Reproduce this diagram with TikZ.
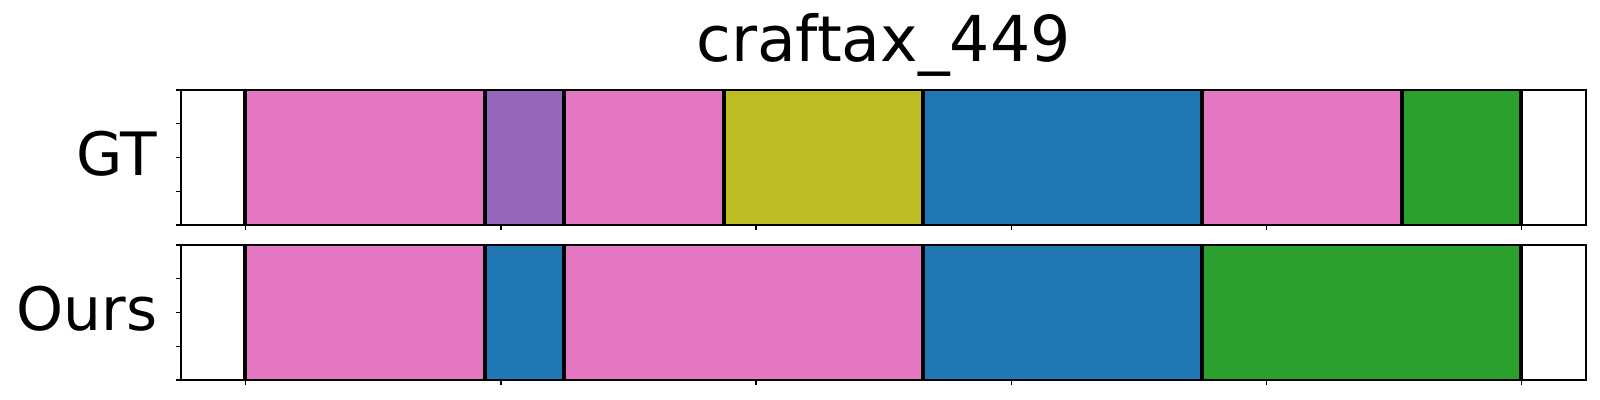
\documentclass[tikz,border=0pt]{standalone}
\usepackage{fontspec}
\setmainfont{DejaVu Sans}
\definecolor{tabpink}{HTML}{E377C2}
\definecolor{tabpurple}{HTML}{9467BD}
\definecolor{tabolive}{HTML}{BCBD22}
\definecolor{tabblue}{HTML}{1F77B4}
\definecolor{tabgreen}{HTML}{2CA02C}
\usepackage{tikz}

\begin{document}
\begin{tikzpicture}[x=0.01cm,y=-0.01cm,
    spine/.style={draw=black,line width=0.6pt},
    cutline/.style={draw=black,line width=1.4pt},
    axtick/.style={draw=black,line width=0.4pt},
    bigfont/.style={font=\fontsize{18}{20}\selectfont},
    rowfont/.style={font=\fontsize{17}{20}\selectfont}]
  \useasboundingbox (0,0) rectangle (1600,400);

  \node[bigfont,anchor=base] (title) at (883.5,61.7) {craftax\_449};

  % GT row
  \foreach \a/\b/\c in {245/485/tabpink,485/564/tabpurple,564/724/tabpink,724/923/tabolive,923/1202/tabblue,1202/1402/tabpink,1402/1521/tabgreen}
    \fill[\c] (\a,90) rectangle (\b,225);
  \foreach \x in {245,485,564,724,923,1202,1402,1521}
    \draw[cutline] (\x,90) -- (\x,225);
  \draw[spine] (181,90) rectangle (1586,225);
  \foreach \y in {90,123.75,157.5,191.25,225}
    \draw[axtick] (181,\y) -- ++(-5,0);
  \foreach \x in {245.7,500.9,756.1,1011.3,1266.5,1521.7}
    \draw[axtick] (\x,225) -- ++(0,5);
  \node[rowfont,anchor=base east,inner sep=0pt] (gt) at (158,175) {GT};

  % Ours row
  \foreach \a/\b/\c in {245/485/tabpink,485/564/tabblue,564/923/tabpink,923/1202/tabblue,1202/1521/tabgreen}
    \fill[\c] (\a,245) rectangle (\b,380);
  \foreach \x in {245,485,564,923,1202,1521}
    \draw[cutline] (\x,245) -- (\x,380);
  \draw[spine] (181,245) rectangle (1586,380);
  \foreach \y in {245,278.75,312.5,346.25,380}
    \draw[axtick] (181,\y) -- ++(-5,0);
  \foreach \x in {245.7,500.9,756.1,1011.3,1266.5,1521.7}
    \draw[axtick] (\x,380) -- ++(0,5);
  \node[rowfont,anchor=base east,inner sep=0pt] (ours) at (158,330.7) {Ours};
\end{tikzpicture}
\end{document}
